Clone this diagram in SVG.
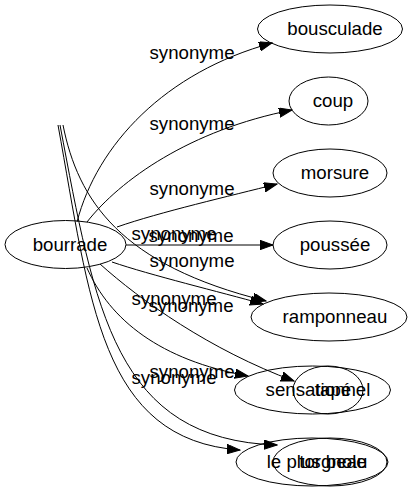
<svg xmlns="http://www.w3.org/2000/svg" width="413" height="491" viewBox="0 0 413 491">
<style>
.n ellipse{fill:none;stroke:#000;stroke-width:1}
text{font-family:"Liberation Sans",Arial,sans-serif;font-size:18.67px;fill:#000;text-anchor:middle}
.e path{fill:none;stroke:#000;stroke-width:1;marker-end:url(#a)}
</style>
<defs>
<marker id="a" markerUnits="userSpaceOnUse" markerWidth="14" markerHeight="10" refX="13" refY="4.7" orient="auto">
<path d="M0,0 L13,4.7 L0,9.4 z" fill="#000" stroke="#000" stroke-width="1"/>
</marker>
</defs>
<rect width="413" height="491" fill="#fff"/>
<g class="e" id="edges">
<path d="M77,222 C97,145 165,72 272,43"/>
<path d="M87,222 C120,180 190,130 292,110"/>
<path d="M117,227 C160,212 230,196 277,184"/>
<path d="M126,245 L273,245"/>
<path d="M112,262 C150,275 220,292 263,304"/>
<path d="M63,125 C78,200 120,265 266,301"/>
<path d="M58,125 C90,300 100,440 240,450"/>
<path d="M60,125 C95,310 115,440 277,445"/>
<path d="M87,268 C110,320 160,360 248,376"/>
<path d="M100,264 C140,300 210,350 294,381"/>
<text x="192" y="59">synonyme</text>
<text x="192" y="130">synonyme</text>
<text x="192" y="195">synonyme</text>
<text x="174" y="240">synonyme</text>
<text x="191" y="242">synonyme</text>
<text x="192" y="267">synonyme</text>
<text x="174" y="305">synonyme</text>
<text x="191" y="312">synonyme</text>
<text x="192" y="378">synonyme</text>
<text x="174" y="384">synonyme</text>
</g>
<g class="n" id="bourrade"><ellipse cx="65.5" cy="244.5" rx="60.5" ry="24"/><text x="70" y="251">bourrade</text></g>
<g class="n" id="bousculade"><ellipse cx="330" cy="29" rx="72.5" ry="24"/><text x="335" y="35">bousculade</text></g>
<g class="n" id="coup"><ellipse cx="328.5" cy="101" rx="39.5" ry="24"/><text x="333" y="107">coup</text></g>
<g class="n" id="morsure"><ellipse cx="330" cy="173" rx="57" ry="24"/><text x="335" y="179">morsure</text></g>
<g class="n" id="poussee"><ellipse cx="330" cy="245" rx="57" ry="24"/><text x="335" y="251">poussée</text></g>
<g class="n" id="ramponneau"><ellipse cx="329" cy="317" rx="78" ry="24"/><text x="335" y="323">ramponneau</text></g>
<g class="n" id="sensationnel"><ellipse cx="312.5" cy="390" rx="78" ry="24"/><text x="318" y="396">sensationnel</text></g>
<g class="n" id="tape"><ellipse cx="328" cy="390" rx="35" ry="24"/><text x="333" y="396">tapé</text></g>
<g class="n" id="le-plus-beau"><ellipse cx="312" cy="462" rx="76" ry="24"/><text x="317" y="468">le plus beau</text></g>
<g class="n" id="torgnole"><ellipse cx="330" cy="462" rx="57" ry="24"/><text x="333" y="468">torgnole</text></g>
</svg>
